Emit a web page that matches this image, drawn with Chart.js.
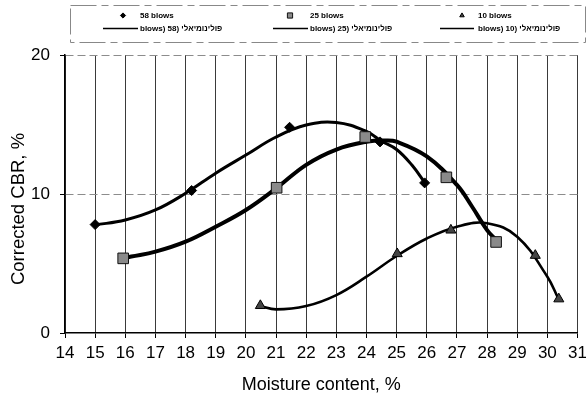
<!DOCTYPE html>
<html><head><meta charset="utf-8">
<script src="https://cdn.jsdelivr.net/npm/chart.js@4/dist/chart.umd.min.js"></script>
<style>html,body{margin:0;padding:0;background:#fff}</style>
</head><body>
<canvas id="c" width="586" height="400"></canvas>
<script>
// ---- data ----
const xTickValues = [14,15,16,17,18,19,20,21,22,23,24,25,26,27,28,29,30,31];
const yTickValues = [0,10,20];
const seriesNames = ['58 blows','25 blows','10 blows'];
const trendNames = ['blows) 58) פולינומיאלי','blows) 25) פולינומיאלי','blows) 10) פולינומיאלי'];
const xTitle = 'Moisture content, %';
const yTitle = 'Corrected CBR, %';

// measured points
const moist58 = [15, 18.2, 21.45, 24.45, 25.93];
const cbr58   = [7.8, 10.25, 14.8, 13.75, 10.8];
const moist25 = [15.93, 21.02, 23.96, 26.65, 28.3];
const cbr25   = [5.37, 10.45, 14.1, 11.2, 6.55];
const moist10 = [20.48, 25.02, 26.8, 29.6, 30.38];
const cbr10   = [1.97, 5.7, 7.4, 5.58, 2.45];

// trend curves
const trendX58 = [15, 16, 17, 18, 19, 20, 21, 22, 23, 24, 24.5, 25, 25.5, 25.94];
const trendY58 = [7.77, 8.13, 8.85, 10.05, 11.5, 12.8, 14.1, 14.96, 15.15, 14.5, 13.8, 13.2, 12.1, 10.8];
const trendX25 = [15.9, 16.2, 17, 18, 19, 20, 21, 22, 23, 24, 24.6, 25, 26, 27, 27.5, 28, 28.3];
const trendY25 = [5.37, 5.5, 5.85, 6.57, 7.65, 8.85, 10.4, 12.1, 13.2, 13.76, 13.85, 13.76, 12.7, 10.65, 9.1, 7.4, 6.7];
const trendX10 = [20.47, 21, 22, 23, 24, 25, 26, 27, 28, 29, 30, 30.36];
const trendY10 = [1.94, 1.7, 1.94, 2.73, 4.05, 5.54, 6.8, 7.65, 7.9, 6.93, 4.05, 2.5];

const pts = (xs, ys) => xs.map((x, i) => ({x, y: ys[i]}));

const FONT = '"Liberation Sans", Arial, sans-serif';
Chart.defaults.font.family = FONT;
Chart.defaults.color = '#000';

const markerStyles = [
  {pointStyle: 'rectRot', radius: 5, bg: '#000', border: '#000'},
  {pointStyle: 'rect', radius: 7.5, bg: '#8a8a8a', border: '#111'},
  {pointStyle: 'triangle', radius: 5.8, bg: '#444', border: '#000'}
];
const trendWidths = [3, 4, 2.6];

function drawMarker(ctx, style, x, y, r) {
  ctx.save();
  ctx.fillStyle = style.bg; ctx.strokeStyle = style.border; ctx.lineWidth = 1;
  ctx.beginPath();
  if (style.pointStyle === 'rectRot') {
    ctx.moveTo(x, y - r); ctx.lineTo(x + r, y); ctx.lineTo(x, y + r); ctx.lineTo(x - r, y); ctx.closePath();
  } else if (style.pointStyle === 'rect') {
    ctx.rect(x - r, y - r, 2 * r, 2 * r);
  } else {
    ctx.moveTo(x, y - r); ctx.lineTo(x + r * 0.87, y + r * 0.5); ctx.lineTo(x - r * 0.87, y + r * 0.5); ctx.closePath();
  }
  ctx.fill(); ctx.stroke();
  ctx.restore();
}

const decorPlugin = {
  id: 'decor',
  afterDraw(chart) {
    const ctx = chart.ctx;
    ctx.save();
    // legend box
    ctx.strokeStyle = '#888'; ctx.lineWidth = 1;
    ctx.setLineDash([26, 5, 7, 5]);
    ctx.strokeRect(70.5, 5.5, 515, 37);
    ctx.setLineDash([]);
    const markX = [123, 290, 462];
    const textX = [140, 310, 478];
    const lineX0 = [103, 273, 440];
    const lineX1 = [138, 308, 474];
    ctx.font = 'bold 8px ' + FONT;
    ctx.fillStyle = '#000';
    ctx.textBaseline = 'middle';
    ctx.textAlign = 'left';
    ctx.direction = 'ltr';
    for (let i = 0; i < 3; i++) {
      drawMarker(ctx, markerStyles[i], markX[i], 15.5, 2.6);
      ctx.fillStyle = '#000';
      ctx.fillText(seriesNames[i], textX[i], 16);
      ctx.strokeStyle = '#000'; ctx.lineWidth = 1.5;
      ctx.beginPath(); ctx.moveTo(lineX0[i], 28.5); ctx.lineTo(lineX1[i], 28.5); ctx.stroke();
      ctx.fillText(trendNames[i], textX[i], 29);
    }
    // y axis title
    ctx.translate(19, 209);
    ctx.rotate(-Math.PI / 2);
    ctx.font = '18.5px ' + FONT;
    ctx.textAlign = 'center';
    ctx.fillText(yTitle, 0, 0);
    ctx.restore();
  }
};

const datasets = [];
const trendData = [pts(trendX58, trendY58), pts(trendX25, trendY25), pts(trendX10, trendY10)];
const markData = [pts(moist58, cbr58), pts(moist25, cbr25), pts(moist10, cbr10)];
for (let i = 0; i < 3; i++) {
  datasets.push({
    label: trendNames[i], type: 'line', data: trendData[i],
    borderColor: '#000', borderWidth: trendWidths[i], pointRadius: 0,
    tension: 0.4, fill: false, order: 2
  });
}
for (let i = 0; i < 3; i++) {
  const s = markerStyles[i];
  datasets.push({
    label: seriesNames[i], type: 'scatter', data: markData[i],
    pointStyle: s.pointStyle, pointRadius: s.radius, pointBackgroundColor: s.bg,
    pointBorderColor: s.border, pointBorderWidth: 1, showLine: false, order: 1
  });
}

new Chart(document.getElementById('c'), {
  type: 'scatter',
  data: {datasets},
  options: {
    responsive: false, animation: false, devicePixelRatio: 1,
    layout: {padding: {top: 55, right: 5, bottom: 0, left: 0}},
    plugins: {legend: {display: false}, tooltip: {enabled: false}},
    scales: {
      x: {
        type: 'linear', min: 14, max: 31,
        afterBuildTicks: s => { s.ticks = xTickValues.map(v => ({value: v})); },
        ticks: {font: {size: 17}, color: '#000', padding: 5, maxRotation: 0, autoSkip: false},
        grid: {color: '#3a3a3a', lineWidth: 1, tickLength: 5, tickColor: '#000'},
        border: {color: '#000', width: 1.5},
        title: {display: true, text: xTitle, font: {size: 18}, color: '#000', padding: {top: 0, bottom: 4}},
        afterFit: s => { s.height = 67; s.paddingLeft = 0; s.paddingRight = 0; }
      },
      y: {
        type: 'linear', min: 0, max: 20,
        afterBuildTicks: s => { s.ticks = yTickValues.map(v => ({value: v})); },
        ticks: {font: {size: 17}, color: '#000', padding: 10},
        grid: {
          color: c => (c.tick && c.tick.value === 0) ? 'rgba(0,0,0,0)' : '#8c8c8c',
          tickColor: '#000', lineWidth: 1, tickLength: 5
        },
        border: {color: '#000', width: 1.5, dash: [8, 4]},
        title: {display: false},
        afterFit: s => { s.width = 65; s.paddingTop = 0; s.paddingBottom = 0; }
      }
    }
  },
  plugins: [decorPlugin]
});
</script>
</body></html>
